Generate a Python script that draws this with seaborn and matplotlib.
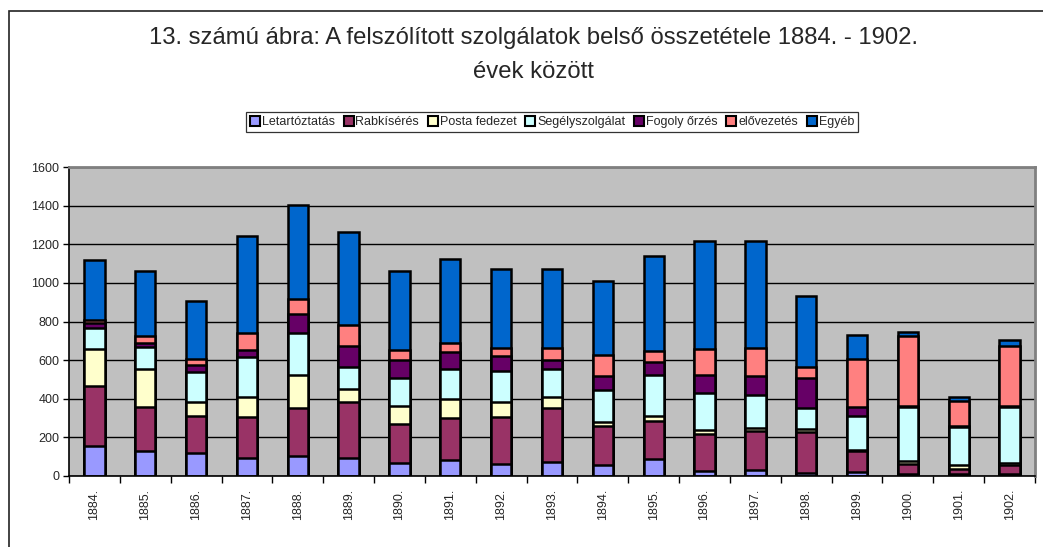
import matplotlib
matplotlib.use("Agg")
import matplotlib.pyplot as plt
from matplotlib.lines import Line2D
from matplotlib.patches import Rectangle
import numpy as np
import pandas as pd
import seaborn as sns

# values
years = ["1884.", "1885.", "1886.", "1887.", "1888.", "1889.", "1890.", "1891.", "1892.", "1893.",
         "1894.", "1895.", "1896.", "1897.", "1898.", "1899.", "1900.", "1901.", "1902."]
categories = ["Letartóztatás", "Rabkísérés", "Posta fedezet", "Segélyszolgálat",
              "Fogoly őrzés", "elővezetés", "Egyéb"]
colors = ["#9999FF", "#993366", "#FFFFCC", "#CCFFFF", "#660066", "#FF8080", "#0066CC"]

letartoztatas = [155, 131, 121, 91, 105, 91, 69, 83, 62, 74, 59, 86, 26, 31, 14, 22, 12, 8, 8]
rabkiseres = [312, 228, 191, 212, 245, 290, 198, 219, 245, 276, 200, 198, 191, 202, 214, 107, 48, 26, 50]
posta_fedezet = [193, 193, 72, 104, 172, 67, 95, 95, 77, 60, 22, 26, 21, 17, 17, 8, 18, 21, 8]
segelyszolgalat = [104, 117, 154, 210, 216, 117, 148, 158, 161, 143, 164, 214, 190, 171, 107, 173, 281, 200, 293]
fogoly_orzes = [26, 21, 38, 38, 103, 109, 93, 85, 74, 47, 72, 64, 94, 98, 153, 49, 3, 3, 3]
elovezetes = [20, 37, 31, 86, 76, 107, 49, 51, 45, 64, 109, 60, 137, 143, 57, 248, 365, 132, 310]
egyeb = [307, 333, 300, 504, 488, 481, 408, 435, 410, 410, 384, 492, 556, 553, 371, 122, 17, 20, 34]

title_1 = "13. számú ábra: A felszólított szolgálatok belső összetétele 1884. - 1902."
title_2 = "évek között"

sns.set_theme(style="white")
plt.rcParams['font.family'] = ['Liberation Sans', 'DejaVu Sans']

df = pd.DataFrame(dict(zip(categories, [letartoztatas, rabkiseres, posta_fedezet, segelyszolgalat,
                                        fogoly_orzes, elovezetes, egyeb])), index=years)
cum = df.cumsum(axis=1)

W, H = 1043, 547
fig = plt.figure(figsize=(W / 100, H / 100), dpi=100)
ax = fig.add_axes([69 / W, 1 - 476 / H, (1035 - 69) / W, (476 - 167) / H])
ax.set_facecolor("#C0C0C0")
ax.set_axisbelow(True)
ax.yaxis.grid(True, color="black", linewidth=1)

# stacked look: draw cumulative totals from the top layer down
for cat, col in reversed(list(zip(categories, colors))):
    sns.barplot(x=years, y=cum[cat].values, color=col, saturation=1, width=0.4,
                edgecolor="black", linewidth=1.8, ax=ax)

ax.set_xlim(-0.5, len(years) - 0.5)
ax.set_ylim(0, 1600)
ax.set_yticks(range(0, 1601, 200))
ax.set_xlabel("")
ax.set_ylabel("")
ax.set_xticks(np.arange(-0.5, len(years), 1), minor=True)
ax.tick_params(axis="x", which="major", length=0, pad=9, labelsize=9, rotation=90, bottom=True)
ax.tick_params(axis="x", which="minor", length=5, width=1, color="black", direction="out", bottom=True)
ax.tick_params(axis="y", which="major", length=4, width=1, color="black", direction="out",
               labelsize=9, left=True, pad=3)

for s in ["left", "bottom"]:
    ax.spines[s].set_color("black")
    ax.spines[s].set_linewidth(1.2)
for s in ["top", "right"]:
    ax.spines[s].set_color("#808080")
    ax.spines[s].set_linewidth(2)

fig.text(533 / W, 1 - 38 / H, title_1, ha="center", va="center", fontsize=17.2)
fig.text(533 / W, 1 - 72 / H, title_2, ha="center", va="center", fontsize=17.2)

handles = [Line2D([], [], marker="s", linestyle="", markerfacecolor=c, markeredgecolor="black",
                  markeredgewidth=1.5, markersize=6.5) for c in colors]
leg = fig.legend(handles, categories, loc="center", bbox_to_anchor=(552 / W, 1 - 122 / H), ncol=7,
                 frameon=True, fancybox=False, edgecolor="black", fontsize=9, handletextpad=0.15,
                 columnspacing=0.7, borderpad=0.35, handlelength=0.8)
leg.get_frame().set_linewidth(0.9)

fig.patches.append(Rectangle((9 / W, -0.05), 1.2, 1 - 10.5 / H + 0.05, transform=fig.transFigure,
                             fill=False, edgecolor="#222222", linewidth=1.2))

fig.savefig("out.png", dpi=100)
